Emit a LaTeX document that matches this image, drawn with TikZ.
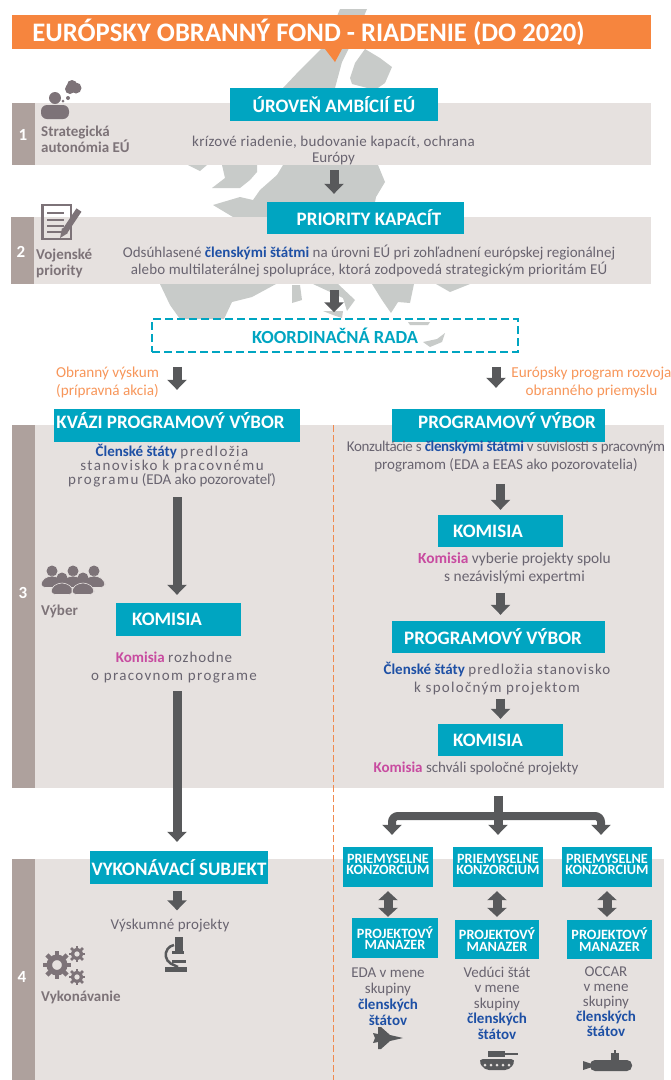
\documentclass[tikz,border=0pt]{standalone}
\usepackage{fontspec}
\usepackage{xcolor}
\usepackage{tikz}
\usetikzlibrary{arrows.meta, positioning, calc}
\setmainfont{Carlito}
\definecolor{fondOrange}{RGB}{246, 133, 62}
\definecolor{labelOrange}{RGB}{247, 150, 90}
\definecolor{dashOrange}{RGB}{240, 138, 80}
\definecolor{boxTeal}{RGB}{0, 165, 193}
\definecolor{bandGrey}{RGB}{230, 225, 223}
\definecolor{stripGrey}{RGB}{174, 161, 157}
\definecolor{mapGrey}{RGB}{200, 203, 201}
\definecolor{arrowGrey}{RGB}{88, 89, 91}
\definecolor{bodyGrey}{RGB}{105, 100, 112}
\definecolor{iconGrey}{RGB}{125, 115, 120}
\definecolor{stateBlue}{RGB}{30, 80, 165}
\definecolor{komPink}{RGB}{200, 75, 160}
\tikzset{
  tealbox/.style={fill=boxTeal, text=white, inner sep=0pt, font=\fontsize{19}{20}\selectfont\bfseries, align=center},
  smallteal/.style={tealbox, font=\fontsize{14.2}{11.5}\selectfont\bfseries},
  bodytext/.style={text=bodyGrey, inner sep=0pt, align=center, font=\fontsize{15}{18}\selectfont},
  sidetext/.style={text=iconGrey, inner sep=0pt, align=left, anchor=west, font=\fontsize{15}{15.5}\selectfont\bfseries},
  orangetext/.style={text=labelOrange, inner sep=0pt, align=center, font=\fontsize{15.2}{18}\selectfont},
  numtext/.style={text=white, inner sep=0pt, font=\fontsize{17}{17}\selectfont\bfseries},
  blockarrow/.style={arrowGrey, line width=9pt, -{Triangle[width=19pt,length=10pt]}},
  twoway/.style={arrowGrey, line width=9pt, {Triangle[width=19pt,length=9pt]}-{Triangle[width=19pt,length=9pt]}},
}
\newcommand{\st}[1]{{\color{stateBlue}\bfseries #1}}
\newcommand{\kom}[1]{{\color{komPink}\bfseries #1}}
\newcommand{\spaced}[2]{{\addfontfeature{LetterSpace=#1}#2}}
% hlava a telo jednej postavy
\newcommand{\personicon}[2]{%
  \fill[iconGrey] (#1,#2) circle (5.5pt);
  \fill[iconGrey, draw=bandGrey, line width=0.6pt, rounded corners=4pt] (#1-11,#2+16.5) -- (#1-11,#2+10) -- (#1-4,#2+5) -- (#1+4,#2+5) -- (#1+11,#2+10) -- (#1+11,#2+16.5) -- cycle;
}
% ozubene koleso
\newcommand{\gearicon}[3]{%
  \draw[iconGrey, line width=#3*0.5pt] (#1,#2) circle (#3*0.7pt);
  \foreach \a in {0,45,...,315}
    \draw[iconGrey, line width=#3*0.4pt] ($(#1,#2)+(\a:#3*0.9pt)$) -- ($(#1,#2)+(\a:#3*1.3pt)$);
}
\begin{document}
\begin{tikzpicture}[x=1pt, y=-1pt]
    \useasboundingbox (0,0) rectangle (671,1080);

    % Mapa v pozadi
    \fill[mapGrey] (340,9) -- (367,9) -- (358,30) -- (348,50) -- (342,62) -- (335,88) -- (283,88) -- (300,70) -- (325,45) -- cycle;
    \fill[mapGrey] (365,49) -- (380,58) -- (392,67) -- (385,83) -- (375,90) -- (352,84) -- (350,78) -- (355,63) -- cycle;
    \fill[mapGrey] (188,165) -- (207,165) -- (200,171) -- cycle;
    \fill[mapGrey] (222,165) -- (257,165) -- (257,172) -- (250,180) -- (240,188) -- (212,188) -- (225,178) -- cycle;
    \fill[mapGrey] (283,165) -- (378,165) -- (385,182) -- (376,197) -- (372,217) -- (233,217) -- (213,205) -- (240,197) -- (253,200) -- (260,190) -- (277,175) -- cycle;
    \fill[mapGrey] (160,284) -- (276,284) -- (252,297) -- (232,302) -- (224,319) -- (180,319) -- (170,305) -- cycle;
    \fill[mapGrey] (292,285) -- (300,285) -- (302,300) -- (292,303) -- cycle;
    \fill[mapGrey] (313,284) -- (338,284) -- (355,300) -- (347,311) -- (343,298) -- cycle;
    \fill[mapGrey] (323,311) -- (343,311) -- (342,318) -- (333,315) -- cycle;
    \fill[mapGrey] (372,284) -- (414,284) -- (410,303) -- (398,302) -- (391,313) -- (382,300) -- cycle;
    \fill[mapGrey] (436,284) -- (470,284) -- (450,292) -- cycle;
    \fill[mapGrey] (408,322) -- (430,322) -- (428,325) -- (410,325) -- cycle;
    \fill[mapGrey] (423,342) -- (437,339) -- (445,333) -- (442,342) -- (430,347) -- cycle;

    % Pasy urovni
    \fill[bandGrey] (12,103) rectangle (651,165);
    \fill[stripGrey] (12,103) rectangle (35,165);
    \fill[bandGrey] (11,217) rectangle (651,284);
    \fill[stripGrey] (11,217) rectangle (34,284);
    \fill[bandGrey] (12,425) rectangle (664,788);
    \fill[stripGrey] (12,425) rectangle (35,788);
    \fill[bandGrey] (12,859) rectangle (664,1080);
    \fill[stripGrey] (12,859) rectangle (35,1080);
    \draw[dashOrange, line width=1pt, dash pattern=on 7pt off 3pt] (333,425) -- (333,1080);

    % Nadpis
    \fill[fondOrange] (325,49) -- (342,49) -- (335,62) -- cycle;
    \node[fill=fondOrange, text=white, inner sep=0pt, minimum width=639pt, minimum height=34pt, align=center, font=\fontsize{26.7}{30}\selectfont\bfseries] (title) at (331.5,32) {EURÓPSKY OBRANNÝ FOND - RIADENIE (DO 2020)\hspace{46pt}};

    % Cisla urovni
    \node[numtext] (n1) at (23,135) {1};
    \node[numtext] (n2) at (21,252) {2};
    \node[numtext] (n3) at (23,593) {3};
    \node[numtext] (n4) at (22,977) {4};

    % Ikony vlavo
    \fill[iconGrey] (55,98) circle (6pt);
    \fill[iconGrey, rounded corners=6pt] (41,119) -- (41,105) -- (69,105) -- (69,119) -- cycle;
    \fill[iconGrey] (70,89) circle (5pt) (76,88) circle (5.5pt) (72,85) circle (5pt);
    \fill[iconGrey] (68,98) circle (2pt) (63,101) circle (1.5pt);
    \draw[iconGrey, line width=2.5pt] (42.5,205) rectangle (71,239);
    \foreach \ypos in {213,220,226,232}
      \draw[iconGrey, line width=2.5pt] (47,\ypos) -- (64,\ypos);
    \draw[iconGrey, line width=6pt] (65,231) -- (79,210);
    \fill[iconGrey] (62,228) -- (68,233) -- (60,238) -- cycle;
    \foreach \pc/\py in {52/571, 73/571, 94/571}
      {\personicon{\pc}{\py}}
    \foreach \pc/\py in {62/578, 83/578}
      {\personicon{\pc}{\py}}
    \gearicon{57}{965}{11}
    \gearicon{77}{954}{6.5}
    \gearicon{77}{977}{6.5}

    \node[sidetext] (side1) at (41,139.5) {Strategická\\autonómia EÚ};
    \node[sidetext] (side2) at (36,263.5) {Vojenské\\priority};
    \node[sidetext] (side3) at (41,611) {Výber};
    \node[sidetext] (side4) at (41,997) {Vykonávanie};

    % Horna cast
    \node[tealbox, minimum width=208pt, minimum height=33pt] (ambition) at (334,104.5) {\raisebox{-10pt}{ÚROVEŇ AMBÍCIÍ EÚ}};
    \node[bodytext, font=\fontsize{15}{16}\selectfont] (ambitiontext) at (333.5,150.5) {\spaced{2}{krízové riadenie, budovanie kapacít, ochrana}\\Európy};
    \node[tealbox, minimum width=197pt, minimum height=32pt] (priority) at (365.5,218) {\hspace{7pt}PRIORITY KAPACÍT};
    \node[bodytext, font=\fontsize{15}{17}\selectfont] (prioritytext) at (369,261.5) {Odsúhlasené \st{členskými štátmi} na úrovni EÚ pri zohľadnení európskej regionálnej\\\spaced{1}{alebo multilaterálnej spolupráce, ktorá zodpovedá strategickým prioritám EÚ}};
    \node[draw=boxTeal, line width=1.5pt, dash pattern=on 8pt off 4pt, minimum width=366pt, minimum height=33pt, inner sep=0pt, text=boxTeal, font=\fontsize{18.5}{20}\selectfont\bfseries] (koord) at (335,335.5) {KOORDINAČNÁ RADA};
    \node[orangetext] (leftlabel) at (107.5,382) {Obranný výskum\\(prípravná akcia)};
    \node[orangetext] (rightlabel) at (591.5,382) {Európsky program rozvoja\\obranného priemyslu};

    % Lavy stlpec
    \node[tealbox, minimum width=246pt, minimum height=33pt] (quasi) at (177,425.5) {\raisebox{9pt}{KVÁZI PROGRAMOVÝ VÝBOR}\hspace{13pt}};
    \node[bodytext, font=\fontsize{15}{14}\selectfont] (quasitext) at (172,465.5) {\st{Členské štáty} \spaced{10}{predložia}\\\spaced{10}{stanovisko k pracovnému}\\\spaced{10}{programu} (EDA ako pozorovateľ)};
    \node[tealbox, minimum width=125pt, minimum height=33pt] (komL) at (178.5,619.5) {KOMISIA\hspace{23pt}};
    \node[bodytext] (komLtext) at (174,667.5) {\kom{Komisia} \spaced{6}{rozhodne}\\\spaced{9}{o pracovnom programe}};
    \node[tealbox, minimum width=178pt, minimum height=33pt] (exec) at (179,867.5) {VYKONÁVACÍ SUBJEKT};
    \node[bodytext] (exectext) at (170,926) {\spaced{1}{Výskumné projekty}};

    % Mikroskop
    \fill[arrowGrey] (175,937) rectangle (183,951);
    \fill[arrowGrey] (172,951) rectangle (184,954);
    \fill[arrowGrey] (165,967) rectangle (187,972);
    \fill[arrowGrey] (172,960) rectangle (186,963);
    \draw[arrowGrey, line width=2.5pt] (174,945) arc (100:240:10pt and 10pt) -- (178,967);

    % Pravy stlpec
    \node[tealbox, minimum width=213pt, minimum height=33pt] (progA) at (498.5,425.5) {\hspace{17pt}\raisebox{10pt}{PROGRAMOVÝ VÝBOR}};
    \node[bodytext] (progAtext) at (506,457) {\spaced{-2.5}{Konzultácie s \st{členskými štátmi} v súvislosti s pracovným}\\programom (EDA a EEAS ako pozorovatelia)};
    \node[tealbox, minimum width=125pt, minimum height=32pt] (komA) at (500.5,531) {KOMISIA\hspace{25pt}};
    \node[bodytext, font=\fontsize{15.4}{18}\selectfont] (komAtext) at (514.5,568) {\kom{Komisia} vyberie projekty spolu\\s nezávislými expertmi};
    \node[tealbox, minimum width=213pt, minimum height=32pt] (progB) at (498.5,637) {PROGRAMOVÝ VÝBOR\hspace{11pt}};
    \node[bodytext] (progBtext) at (497,679) {\st{Členské štáty} \spaced{7}{predložia stanovisko}\\\spaced{8.5}{k spoločným projektom}};
    \node[tealbox, minimum width=125pt, minimum height=32pt] (komB) at (500.5,740) {KOMISIA\hspace{25pt}};
    \node[bodytext] (komBtext) at (476,769) {\kom{Komisia} schváli spoločné projekty};

    % Konzorcia a manazeri
    \node[smallteal, minimum width=90pt, minimum height=40pt] (cons1) at (388,867) {\raisebox{12pt}{\parbox{90pt}{\centering PRIEMYSELNE\\KONZORCIUM}}};
    \node[smallteal, minimum width=90pt, minimum height=40pt] (cons2) at (498,867) {\raisebox{12pt}{\parbox{90pt}{\centering PRIEMYSELNE\\KONZORCIUM}}};
    \node[smallteal, minimum width=90pt, minimum height=40pt] (cons3) at (607,867) {\raisebox{12pt}{\parbox{90pt}{\centering PRIEMYSELNE\\KONZORCIUM}}};
    \node[smallteal, minimum width=86pt, minimum height=40pt] (man1) at (395,938) {PROJEKTOVÝ\\MANAZER};
    \node[smallteal, minimum width=84pt, minimum height=39pt] (man2) at (497,939.5) {PROJEKTOVÝ\\MANAZER};
    \node[smallteal, minimum width=85pt, minimum height=39pt] (man3) at (609.5,939.5) {PROJEKTOVÝ\\MANAZER};
    \node[bodytext, font=\fontsize{15}{16}\selectfont] (mantext1) at (388,997) {EDA v mene\\skupiny\\\st{členských}\\\st{štátov}};
    \node[bodytext, font=\fontsize{15}{15.5}\selectfont] (mantext2) at (497,1003) {Vedúci štát\\v mene\\skupiny\\\st{členských}\\\st{štátov}};
    \node[bodytext, font=\fontsize{15}{15}\selectfont] (mantext3) at (606,1002) {OCCAR\\v mene\\skupiny\\\st{členských}\\\st{štátov}};

    % Lietadlo, tank, ponorka
    \fill[arrowGrey] (403,1038) -- (390,1035) -- (381,1027) -- (378,1027) -- (378,1034) -- (373,1033) -- (375,1038) -- (373,1043) -- (378,1042) -- (378,1049) -- (381,1049) -- (390,1041) -- cycle;
    \fill[arrowGrey] (488,1051) rectangle (505,1057);
    \fill[arrowGrey] (505,1053) rectangle (518,1055);
    \fill[arrowGrey, rounded corners=5pt] (478,1059) -- (516,1059) -- (510,1070) -- (484,1070) -- cycle;
    \foreach \wx in {485,491,497,503,509}
      \fill[bandGrey] (\wx,1065) circle (1.5pt);
    \fill[arrowGrey, rounded corners=5pt] (590,1060) -- (632,1060) -- (632,1071) -- (590,1071) -- cycle;
    \fill[arrowGrey] (583,1061) -- (592,1064) -- (592,1067) -- (583,1070) -- cycle;
    \fill[arrowGrey] (611,1053) rectangle (619,1060);
    \fill[arrowGrey] (614,1050) rectangle (616,1054);

    % Sipky
    \draw[blockarrow, shorten <=5pt, shorten >=8pt] (ambitiontext.south -| ambition) -- (priority.north -| ambition);
    \draw[blockarrow, shorten <=12pt, shorten >=6pt] (prioritytext.south -| ambition) -- (koord.north -| ambition);
    \draw[blockarrow, shorten <=14pt, shorten >=19pt] (koord.south -| quasi) -- (quasi.north);
    \draw[blockarrow, shorten <=14pt, shorten >=21pt] ([xshift=-2.5pt]koord.south -| progA) -- ([xshift=-2.5pt]progA.north);
    \draw[blockarrow, shorten <=10pt, shorten >=8pt] (quasitext.south -| quasi) -- (komL.north -| quasi);
    \draw[blockarrow, shorten <=8pt, shorten >=9pt] (komLtext.south -| quasi) -- (exec.north -| quasi);
    \draw[blockarrow, shorten <=7pt, shorten >=9pt] (exec.south -| quasi) -- (exectext.north -| quasi);
    \draw[blockarrow, shorten <=11pt, shorten >=5pt] (progAtext.south -| komA) -- (komA.north);
    \draw[blockarrow, shorten <=9pt, shorten >=6pt] (komAtext.south -| komA) -- (progB.north -| komA);
    \draw[blockarrow, shorten <=3pt, shorten >=5pt] (progBtext.south -| komA) -- (komB.north);

    % Rozvetvenie
    \coordinate (fork) at (498,816);
    \draw[blockarrow, shorten <=20pt, shorten >=12pt] (komBtext.south -| cons2) -- (cons2.north);
    \draw[blockarrow, line width=8pt, rounded corners=6pt, shorten >=12pt] (fork) -| ([xshift=4pt]cons1.north);
    \draw[blockarrow, line width=8pt, rounded corners=6pt, shorten >=12pt] (fork) -| ([xshift=-6pt]cons3.north);
    \draw[twoway, shorten <=4pt, shorten >=1pt] (cons1.south) -- (man1.north -| cons1);
    \draw[twoway, shorten <=4pt, shorten >=3pt] (cons2.south -| man2) -- (man2.north);
    \draw[twoway, shorten <=4pt, shorten >=3pt] (cons3.south) -- (man3.north -| cons3);
\end{tikzpicture}
\end{document}
